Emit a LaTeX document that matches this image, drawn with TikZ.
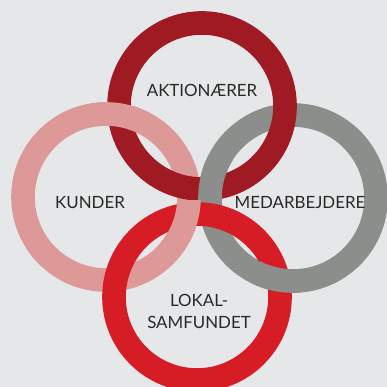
\documentclass[tikz,border=0pt]{standalone}
\usepackage{fontspec}
\setmainfont{Lato}
\usepackage{tikz}
\usetikzlibrary{positioning}
\definecolor{bg}{RGB}{230,231,233}
\definecolor{aktie}{RGB}{160,26,36}
\definecolor{kunde}{RGB}{221,152,152}
\definecolor{medarb}{RGB}{139,142,139}
\definecolor{lokal}{RGB}{214,29,38}
\definecolor{tekst}{RGB}{40,40,40}
\tikzset{ring/.style={line width=0.59cm},
         label/.style={text=tekst,font=\fontsize{12}{15.6}\selectfont,inner sep=0,align=center}}

\begin{document}
\begin{tikzpicture}[x=0.025cm,y=0.025cm]
\useasboundingbox(0,0)rectangle(387,387);
\clip(0,0)rectangle(387,387);
\fill[bg](0,0)rectangle(387,387);
% centres des anneaux
\coordinate(T)at(202,281);
\coordinate(L)at(106,190);
\coordinate(R)at(293,189);
\coordinate(B)at(197,90);
\draw[ring,kunde](L)circle[radius=2.075cm];
\draw[ring,medarb](R)circle[radius=2.075cm];
\draw[ring,aktie](T)circle[radius=2.075cm];
\draw[ring,lokal](B)circle[radius=2.075cm];
% croisements par-dessus
\begin{scope}\clip(119.5,272)circle[radius=0.65cm];\draw[ring,kunde](L)circle[radius=2.075cm];\end{scope}
\begin{scope}\clip(193,185)rectangle(235,226);\draw[ring,medarb](R)circle[radius=2.075cm];\end{scope}
\begin{scope}\clip(160,145)rectangle(205,186);\draw[ring,kunde](L)circle[radius=2.075cm];\end{scope}
\begin{scope}\clip(278,107)circle[radius=0.65cm];\draw[ring,medarb](R)circle[radius=2.075cm];\end{scope}
% textes
\node[label](aktio)at(202,297){AKTIONÆRER};
\node[label](kunder)at(90,184){KUNDER};
\node[label](medarbejd)at(300,184){MEDARBEJDERE};
\node[label](lokalt)at(199,76){LOKAL-\\SAMFUNDET};
\end{tikzpicture}
\end{document}
